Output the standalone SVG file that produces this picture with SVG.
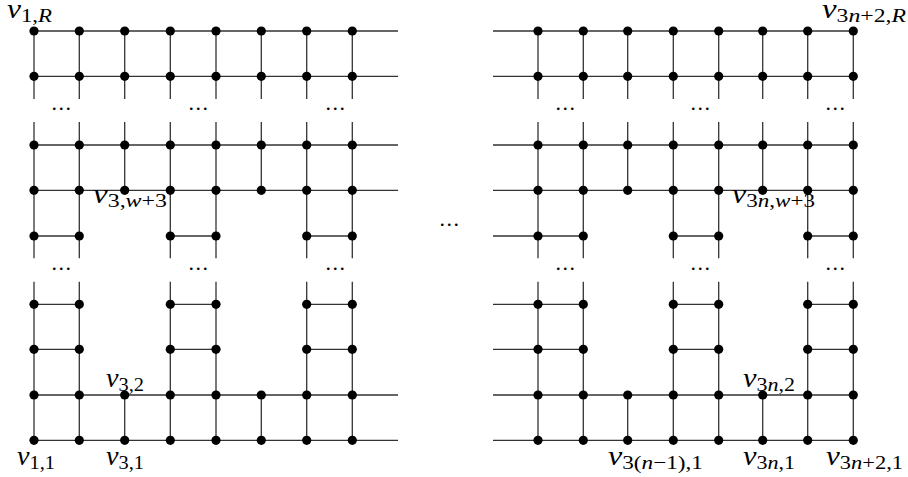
<svg xmlns="http://www.w3.org/2000/svg" width="908" height="477" viewBox="0 0 908 477">
<style>
.e{stroke:#333;stroke-width:1.3;fill:none}
.n{fill:#000}
.lb{font-size:27px;fill:#000}
.it{font-style:italic}
.sb{font-size:19.5px}
.dots{font-size:22px;letter-spacing:1.5px;fill:#000;text-anchor:middle}
</style>
<defs><circle id="d" r="4.6" class="n"/></defs>
<rect width="908" height="477" fill="#fff"/>
<g id="connectors" class="e">
<path d="M34 31H398M34 76.3H398M34 145H398M34 190.3H398M34 395H398M34 440.3H398"/>
<path d="M34 236H79.3M170.3 236H216M306.7 236H352.3M34 304.3H79.3M170.3 304.3H216M306.7 304.3H352.3M34 349.3H79.3M170.3 349.3H216M306.7 349.3H352.3"/>
<path d="M34 31V99M79.3 31V99M124.7 31V99M170.3 31V99M216 31V99M261.3 31V99M306.7 31V99M352.3 31V99"/>
<path d="M34 122V190.3M79.3 122V190.3M124.7 122V190.3M170.3 122V190.3M216 122V190.3M261.3 122V190.3M306.7 122V190.3M352.3 122V190.3"/>
<path d="M34 395V440.3M79.3 395V440.3M124.7 395V440.3M170.3 395V440.3M216 395V440.3M261.3 395V440.3M306.7 395V440.3M352.3 395V440.3"/>
<path d="M34 190.3V258.3M79.3 190.3V258.3M170.3 190.3V258.3M216 190.3V258.3M306.7 190.3V258.3M352.3 190.3V258.3"/>
<path d="M34 281.7V395M79.3 281.7V395M170.3 281.7V395M216 281.7V395M306.7 281.7V395M352.3 281.7V395"/>
<path d="M493 31H853.3M493 76.3H853.3M493 145H853.3M493 190.3H853.3M493 395H853.3M493 440.3H853.3"/>
<path d="M493 236H583.3M673.3 236H718.7M807.7 236H853.3M493 304.3H583.3M673.3 304.3H718.7M807.7 304.3H853.3M493 349.3H583.3M673.3 349.3H718.7M807.7 349.3H853.3"/>
<path d="M538 31V99M583.3 31V99M627.7 31V99M673.3 31V99M718.7 31V99M762.7 31V99M807.7 31V99M853.3 31V99"/>
<path d="M538 122V190.3M583.3 122V190.3M627.7 122V190.3M673.3 122V190.3M718.7 122V190.3M762.7 122V190.3M807.7 122V190.3M853.3 122V190.3"/>
<path d="M538 395V440.3M583.3 395V440.3M627.7 395V440.3M673.3 395V440.3M718.7 395V440.3M762.7 395V440.3M807.7 395V440.3M853.3 395V440.3"/>
<path d="M538 190.3V258.3M583.3 190.3V258.3M673.3 190.3V258.3M718.7 190.3V258.3M807.7 190.3V258.3M853.3 190.3V258.3"/>
<path d="M538 281.7V395M583.3 281.7V395M673.3 281.7V395M718.7 281.7V395M807.7 281.7V395M853.3 281.7V395"/>
</g>
<g id="left-nodes">
<g id="L1-1"><use href="#d" x="34" y="31"/></g><g id="L1-2"><use href="#d" x="79.3" y="31"/></g><g id="L1-3"><use href="#d" x="124.7" y="31"/></g><g id="L1-4"><use href="#d" x="170.3" y="31"/></g><g id="L1-5"><use href="#d" x="216" y="31"/></g><g id="L1-6"><use href="#d" x="261.3" y="31"/></g><g id="L1-7"><use href="#d" x="306.7" y="31"/></g><g id="L1-8"><use href="#d" x="352.3" y="31"/></g>
<g id="L2-1"><use href="#d" x="34" y="76.3"/></g><g id="L2-2"><use href="#d" x="79.3" y="76.3"/></g><g id="L2-3"><use href="#d" x="124.7" y="76.3"/></g><g id="L2-4"><use href="#d" x="170.3" y="76.3"/></g><g id="L2-5"><use href="#d" x="216" y="76.3"/></g><g id="L2-6"><use href="#d" x="261.3" y="76.3"/></g><g id="L2-7"><use href="#d" x="306.7" y="76.3"/></g><g id="L2-8"><use href="#d" x="352.3" y="76.3"/></g>
<g id="L3-1"><use href="#d" x="34" y="145"/></g><g id="L3-2"><use href="#d" x="79.3" y="145"/></g><g id="L3-3"><use href="#d" x="124.7" y="145"/></g><g id="L3-4"><use href="#d" x="170.3" y="145"/></g><g id="L3-5"><use href="#d" x="216" y="145"/></g><g id="L3-6"><use href="#d" x="261.3" y="145"/></g><g id="L3-7"><use href="#d" x="306.7" y="145"/></g><g id="L3-8"><use href="#d" x="352.3" y="145"/></g>
<g id="L4-1"><use href="#d" x="34" y="190.3"/></g><g id="L4-2"><use href="#d" x="79.3" y="190.3"/></g><g id="L4-3"><use href="#d" x="124.7" y="190.3"/></g><g id="L4-4"><use href="#d" x="170.3" y="190.3"/></g><g id="L4-5"><use href="#d" x="216" y="190.3"/></g><g id="L4-6"><use href="#d" x="261.3" y="190.3"/></g><g id="L4-7"><use href="#d" x="306.7" y="190.3"/></g><g id="L4-8"><use href="#d" x="352.3" y="190.3"/></g>
<g id="L5-1"><use href="#d" x="34" y="236"/></g><g id="L5-2"><use href="#d" x="79.3" y="236"/></g><g id="L5-4"><use href="#d" x="170.3" y="236"/></g><g id="L5-5"><use href="#d" x="216" y="236"/></g><g id="L5-7"><use href="#d" x="306.7" y="236"/></g><g id="L5-8"><use href="#d" x="352.3" y="236"/></g>
<g id="L6-1"><use href="#d" x="34" y="304.3"/></g><g id="L6-2"><use href="#d" x="79.3" y="304.3"/></g><g id="L6-4"><use href="#d" x="170.3" y="304.3"/></g><g id="L6-5"><use href="#d" x="216" y="304.3"/></g><g id="L6-7"><use href="#d" x="306.7" y="304.3"/></g><g id="L6-8"><use href="#d" x="352.3" y="304.3"/></g>
<g id="L7-1"><use href="#d" x="34" y="349.3"/></g><g id="L7-2"><use href="#d" x="79.3" y="349.3"/></g><g id="L7-4"><use href="#d" x="170.3" y="349.3"/></g><g id="L7-5"><use href="#d" x="216" y="349.3"/></g><g id="L7-7"><use href="#d" x="306.7" y="349.3"/></g><g id="L7-8"><use href="#d" x="352.3" y="349.3"/></g>
<g id="L8-1"><use href="#d" x="34" y="395"/></g><g id="L8-2"><use href="#d" x="79.3" y="395"/></g><g id="L8-3"><use href="#d" x="124.7" y="395"/></g><g id="L8-4"><use href="#d" x="170.3" y="395"/></g><g id="L8-5"><use href="#d" x="216" y="395"/></g><g id="L8-6"><use href="#d" x="261.3" y="395"/></g><g id="L8-7"><use href="#d" x="306.7" y="395"/></g><g id="L8-8"><use href="#d" x="352.3" y="395"/></g>
<g id="L9-1"><use href="#d" x="34" y="440.3"/></g><g id="L9-2"><use href="#d" x="79.3" y="440.3"/></g><g id="L9-3"><use href="#d" x="124.7" y="440.3"/></g><g id="L9-4"><use href="#d" x="170.3" y="440.3"/></g><g id="L9-5"><use href="#d" x="216" y="440.3"/></g><g id="L9-6"><use href="#d" x="261.3" y="440.3"/></g><g id="L9-7"><use href="#d" x="306.7" y="440.3"/></g><g id="L9-8"><use href="#d" x="352.3" y="440.3"/></g>
</g>
<g id="right-nodes">
<g id="R1-1"><use href="#d" x="538" y="31"/></g><g id="R1-2"><use href="#d" x="583.3" y="31"/></g><g id="R1-3"><use href="#d" x="627.7" y="31"/></g><g id="R1-4"><use href="#d" x="673.3" y="31"/></g><g id="R1-5"><use href="#d" x="718.7" y="31"/></g><g id="R1-6"><use href="#d" x="762.7" y="31"/></g><g id="R1-7"><use href="#d" x="807.7" y="31"/></g><g id="R1-8"><use href="#d" x="853.3" y="31"/></g>
<g id="R2-1"><use href="#d" x="538" y="76.3"/></g><g id="R2-2"><use href="#d" x="583.3" y="76.3"/></g><g id="R2-3"><use href="#d" x="627.7" y="76.3"/></g><g id="R2-4"><use href="#d" x="673.3" y="76.3"/></g><g id="R2-5"><use href="#d" x="718.7" y="76.3"/></g><g id="R2-6"><use href="#d" x="762.7" y="76.3"/></g><g id="R2-7"><use href="#d" x="807.7" y="76.3"/></g><g id="R2-8"><use href="#d" x="853.3" y="76.3"/></g>
<g id="R3-1"><use href="#d" x="538" y="145"/></g><g id="R3-2"><use href="#d" x="583.3" y="145"/></g><g id="R3-3"><use href="#d" x="627.7" y="145"/></g><g id="R3-4"><use href="#d" x="673.3" y="145"/></g><g id="R3-5"><use href="#d" x="718.7" y="145"/></g><g id="R3-6"><use href="#d" x="762.7" y="145"/></g><g id="R3-7"><use href="#d" x="807.7" y="145"/></g><g id="R3-8"><use href="#d" x="853.3" y="145"/></g>
<g id="R4-1"><use href="#d" x="538" y="190.3"/></g><g id="R4-2"><use href="#d" x="583.3" y="190.3"/></g><g id="R4-3"><use href="#d" x="627.7" y="190.3"/></g><g id="R4-4"><use href="#d" x="673.3" y="190.3"/></g><g id="R4-5"><use href="#d" x="718.7" y="190.3"/></g><g id="R4-6"><use href="#d" x="762.7" y="190.3"/></g><g id="R4-7"><use href="#d" x="807.7" y="190.3"/></g><g id="R4-8"><use href="#d" x="853.3" y="190.3"/></g>
<g id="R5-1"><use href="#d" x="538" y="236"/></g><g id="R5-2"><use href="#d" x="583.3" y="236"/></g><g id="R5-4"><use href="#d" x="673.3" y="236"/></g><g id="R5-5"><use href="#d" x="718.7" y="236"/></g><g id="R5-7"><use href="#d" x="807.7" y="236"/></g><g id="R5-8"><use href="#d" x="853.3" y="236"/></g>
<g id="R6-1"><use href="#d" x="538" y="304.3"/></g><g id="R6-2"><use href="#d" x="583.3" y="304.3"/></g><g id="R6-4"><use href="#d" x="673.3" y="304.3"/></g><g id="R6-5"><use href="#d" x="718.7" y="304.3"/></g><g id="R6-7"><use href="#d" x="807.7" y="304.3"/></g><g id="R6-8"><use href="#d" x="853.3" y="304.3"/></g>
<g id="R7-1"><use href="#d" x="538" y="349.3"/></g><g id="R7-2"><use href="#d" x="583.3" y="349.3"/></g><g id="R7-4"><use href="#d" x="673.3" y="349.3"/></g><g id="R7-5"><use href="#d" x="718.7" y="349.3"/></g><g id="R7-7"><use href="#d" x="807.7" y="349.3"/></g><g id="R7-8"><use href="#d" x="853.3" y="349.3"/></g>
<g id="R8-1"><use href="#d" x="538" y="395"/></g><g id="R8-2"><use href="#d" x="583.3" y="395"/></g><g id="R8-3"><use href="#d" x="627.7" y="395"/></g><g id="R8-4"><use href="#d" x="673.3" y="395"/></g><g id="R8-5"><use href="#d" x="718.7" y="395"/></g><g id="R8-6"><use href="#d" x="762.7" y="395"/></g><g id="R8-7"><use href="#d" x="807.7" y="395"/></g><g id="R8-8"><use href="#d" x="853.3" y="395"/></g>
<g id="R9-1"><use href="#d" x="538" y="440.3"/></g><g id="R9-2"><use href="#d" x="583.3" y="440.3"/></g><g id="R9-3"><use href="#d" x="627.7" y="440.3"/></g><g id="R9-4"><use href="#d" x="673.3" y="440.3"/></g><g id="R9-5"><use href="#d" x="718.7" y="440.3"/></g><g id="R9-6"><use href="#d" x="762.7" y="440.3"/></g><g id="R9-7"><use href="#d" x="807.7" y="440.3"/></g><g id="R9-8"><use href="#d" x="853.3" y="440.3"/></g>
</g>
<g id="ellipses" font-family="Liberation Serif, serif">
<text class="dots" x="62" y="110">...</text><text class="dots" x="199" y="110">...</text><text class="dots" x="336" y="110">...</text>
<text class="dots" x="62" y="269.5">...</text><text class="dots" x="199" y="269.5">...</text><text class="dots" x="336" y="269.5">...</text>
<text class="dots" x="566" y="110">...</text><text class="dots" x="701" y="110">...</text><text class="dots" x="836" y="110">...</text>
<text class="dots" x="566" y="269.5">...</text><text class="dots" x="701" y="269.5">...</text><text class="dots" x="836" y="269.5">...</text>
<text class="dots" x="450" y="226">...</text>
</g>
<g id="labels" class="lb" font-family="Liberation Serif, serif">
<text x="7" y="18" textLength="45" lengthAdjust="spacingAndGlyphs"><tspan class="it">v</tspan><tspan class="sb" y="21.5">1,<tspan class="it">R</tspan></tspan></text>
<text x="93" y="203" textLength="74" lengthAdjust="spacingAndGlyphs"><tspan class="it">v</tspan><tspan class="sb" y="206.5">3,<tspan class="it">w</tspan>+3</tspan></text>
<text x="17" y="465" textLength="38" lengthAdjust="spacingAndGlyphs"><tspan class="it">v</tspan><tspan class="sb" y="468.5">1,1</tspan></text>
<text x="106" y="387" textLength="38" lengthAdjust="spacingAndGlyphs"><tspan class="it">v</tspan><tspan class="sb" y="390.5">3,2</tspan></text>
<text x="106" y="465" textLength="38" lengthAdjust="spacingAndGlyphs"><tspan class="it">v</tspan><tspan class="sb" y="468.5">3,1</tspan></text>
<text x="822" y="18" textLength="84" lengthAdjust="spacingAndGlyphs"><tspan class="it">v</tspan><tspan class="sb" y="21.5">3<tspan class="it">n</tspan>+2,<tspan class="it">R</tspan></tspan></text>
<text x="732" y="203" textLength="83" lengthAdjust="spacingAndGlyphs"><tspan class="it">v</tspan><tspan class="sb" y="206.5">3<tspan class="it">n</tspan>,<tspan class="it">w</tspan>+3</tspan></text>
<text x="608" y="465" textLength="95" lengthAdjust="spacingAndGlyphs"><tspan class="it">v</tspan><tspan class="sb" y="468.5">3(<tspan class="it">n</tspan>−1),1</tspan></text>
<text x="743" y="465" textLength="52" lengthAdjust="spacingAndGlyphs"><tspan class="it">v</tspan><tspan class="sb" y="468.5">3<tspan class="it">n</tspan>,1</tspan></text>
<text x="826" y="465" textLength="77" lengthAdjust="spacingAndGlyphs"><tspan class="it">v</tspan><tspan class="sb" y="468.5">3<tspan class="it">n</tspan>+2,1</tspan></text>
<text x="743" y="387" textLength="52" lengthAdjust="spacingAndGlyphs"><tspan class="it">v</tspan><tspan class="sb" y="390.5">3<tspan class="it">n</tspan>,2</tspan></text>
</g>
</svg>
